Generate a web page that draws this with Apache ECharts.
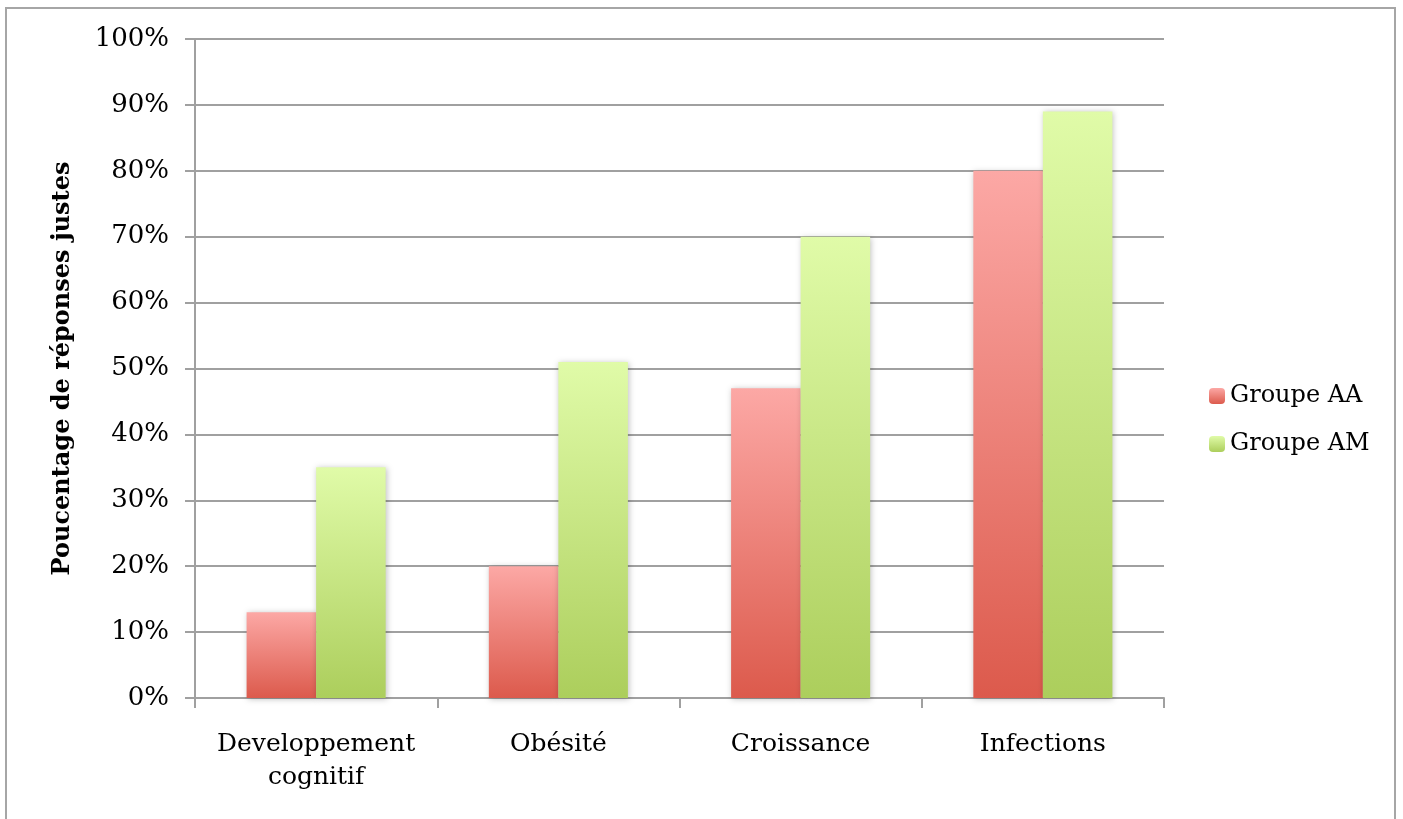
<!DOCTYPE html>
<html><head><meta charset="utf-8">
<script src="https://cdn.jsdelivr.net/npm/echarts@6/dist/echarts.min.js"></script>
<style>html,body{margin:0;padding:0;background:#fff}#c{width:1403px;height:819px}
#frame{position:absolute;left:5px;top:7px;width:1391px;height:830px;border:2px solid #a6a6a6;box-sizing:border-box;pointer-events:none}</style>
</head><body><div id="c"></div><div id="frame"></div>
<script>
const categories = ['Developpement\ncognitif', 'Obésité', 'Croissance', 'Infections'];
const groupAA = [13, 20, 47, 80];
const groupAM = [35, 51, 70, 89];
const seriesNames = ['Groupe AA', 'Groupe AM'];
const yAxisTitle = 'Poucentage de réponses justes';

const font = 'DejaVu Serif';
function grad(top, bottom) {
  return new echarts.graphic.LinearGradient(0, 0, 0, 1, [{offset: 0, color: top}, {offset: 1, color: bottom}]);
}
const chart = echarts.init(document.getElementById('c'));
chart.setOption({
  animation: false,
  textStyle: {fontFamily: font},
  grid: {left: 195, top: 39, width: 969, height: 659},
  legend: {
    orient: 'vertical', left: 1204, top: 379, itemWidth: 16, itemHeight: 16, itemGap: 24,
    textStyle: {fontFamily: font, fontSize: 24, color: '#000'},
    data: seriesNames
  },
  xAxis: {
    type: 'category', data: categories,
    axisLine: {lineStyle: {color: '#a0a0a0', width: 2}},
    axisTick: {show: true, interval: 0, length: 10, lineStyle: {color: '#a0a0a0', width: 2}},
    axisLabel: {interval: 0, hideOverlap: false, fontFamily: font, fontSize: 25, color: '#000', margin: 30, lineHeight: 33}
  },
  yAxis: {
    type: 'value', min: 0, max: 100, interval: 10,
    name: yAxisTitle, nameLocation: 'middle', nameGap: 120,
    nameTextStyle: {fontFamily: font, fontSize: 24, fontWeight: 'bold', color: '#000'},
    axisLine: {show: true, lineStyle: {color: '#a0a0a0', width: 2}},
    axisTick: {show: true, length: 10, lineStyle: {color: '#a0a0a0', width: 2}},
    splitLine: {lineStyle: {color: '#a0a0a0', width: 2}},
    axisLabel: {fontFamily: font, fontSize: 26, color: '#000', margin: 26, formatter: '{value}%'}
  },
  series: [
    {name: seriesNames[0], type: 'bar', data: groupAA, barGap: '0%', barCategoryGap: '42.6%',
     itemStyle: {color: grad('#fca8a5', '#dc5a4c'), shadowColor: 'rgba(0,0,0,0.25)', shadowBlur: 6, shadowOffsetX: 1, shadowOffsetY: 1}},
    {name: seriesNames[1], type: 'bar', data: groupAM,
     itemStyle: {color: grad('#e0fba8', '#acce5c'), shadowColor: 'rgba(0,0,0,0.25)', shadowBlur: 6, shadowOffsetX: 1, shadowOffsetY: 1}}
  ]
});
</script></body></html>
